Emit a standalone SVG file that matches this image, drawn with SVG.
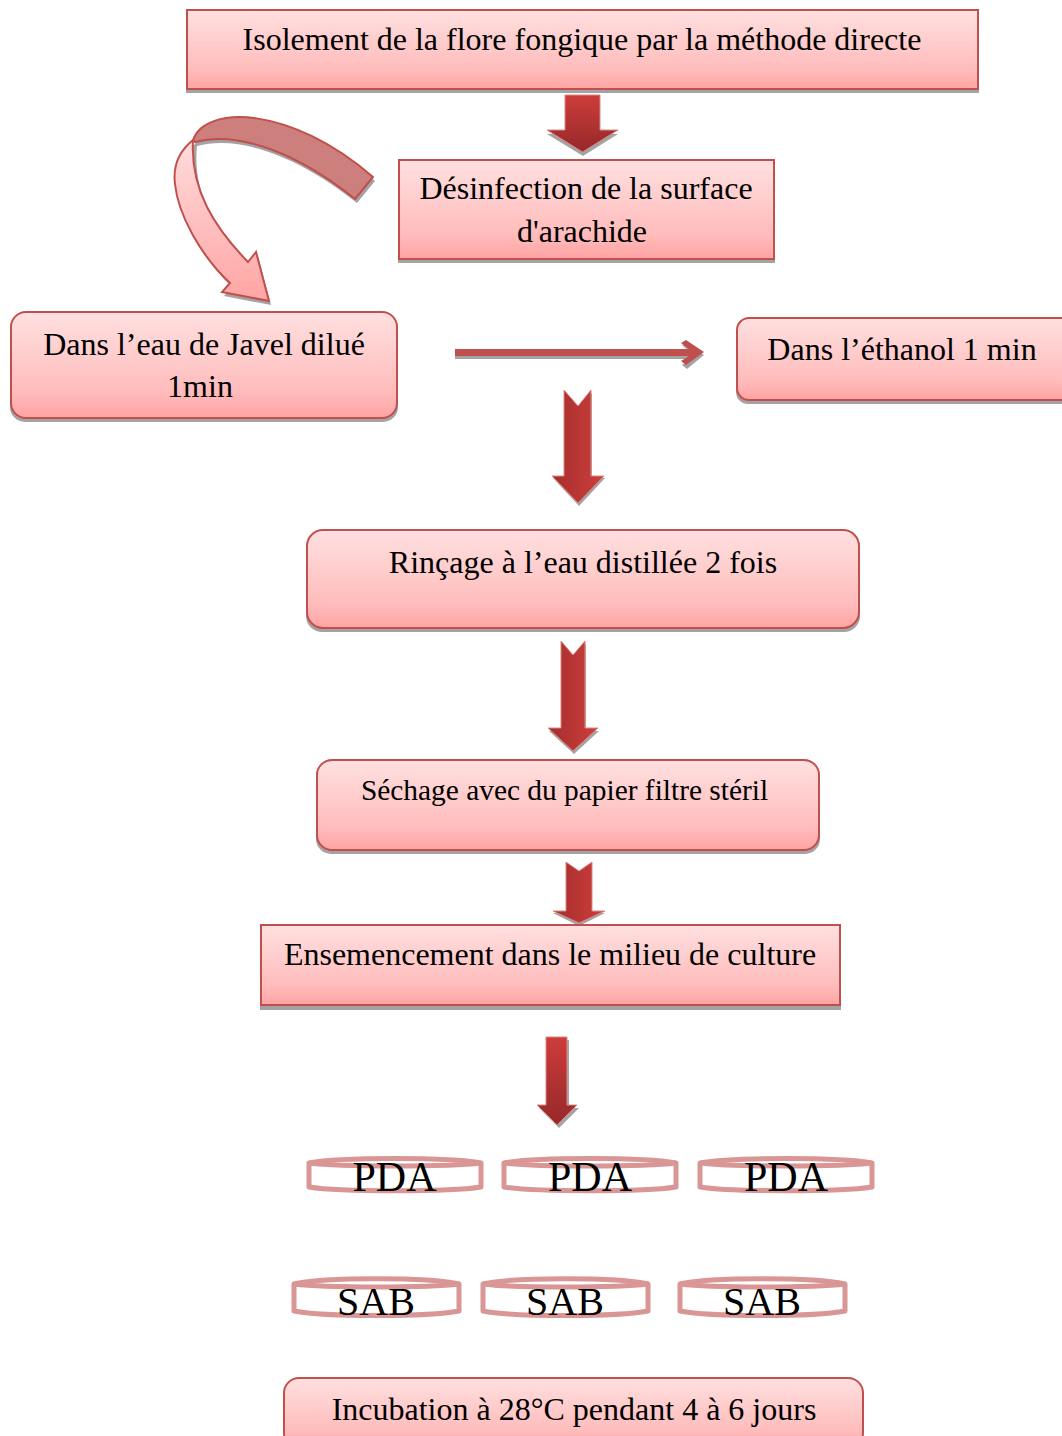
<svg xmlns="http://www.w3.org/2000/svg" width="1062" height="1436" viewBox="0 0 1062 1436">
<defs>
<linearGradient id="box" x1="0" y1="0" x2="0" y2="1"><stop offset="0" stop-color="#ffe0e0"/><stop offset="0.75" stop-color="#ffbcbc"/><stop offset="1" stop-color="#ffa3a3"/></linearGradient>
<linearGradient id="dn" x1="0" y1="0" x2="0" y2="1"><stop offset="0" stop-color="#cd3d3a"/><stop offset="1" stop-color="#96282a"/></linearGradient>
<linearGradient id="side" x1="0" y1="0" x2="1" y2="0"><stop offset="0" stop-color="#a52d2d"/><stop offset="1" stop-color="#cd3f3c"/></linearGradient>
<linearGradient id="curve" gradientUnits="userSpaceOnUse" x1="0" y1="140" x2="0" y2="300"><stop offset="0" stop-color="#ffdcdc"/><stop offset="1" stop-color="#ffa5a5"/></linearGradient>
</defs>
<style>
.b{fill:url(#box);stroke:#c0504d;stroke-width:2}
.s{fill:#a3a3a3}
.t{font-family:"Liberation Serif","Times New Roman",serif;font-size:32px;fill:#000;text-anchor:middle}
.m{font-size:29.400px}
.d{fill:#fff;stroke:#d99694;stroke-width:5;stroke-linejoin:round}
.r{fill:none;stroke:#d99694;stroke-width:5}
.l{font-family:"Liberation Serif","Times New Roman",serif;font-size:42px;fill:#000;text-anchor:middle}
.k{font-size:40px}
.ar{stroke:#dc8886;stroke-width:1}
</style>
<g id="connectors">
<g id="arrow-1"><path class="s" transform="translate(0,3)" d="M565 96H600V131H618L583 153 547 131H565Z"/><path class="ar" fill="url(#dn)" d="M565 95H600V130H618L582.500 152 547 130H565Z"/></g>
<g id="arrow-curve">
<path class="s" transform="translate(2,4)" d="M355 199 373 177C290 105 205 105 193 140 178 152 173 168 175 184 178 214 200 255 230 283L222 292 269 301 256 252 248 262C215 228 190 190 195 142 240 130 300 155 355 199Z"/>
<path d="M195 142C240 130 300 155 355 199L373 177C290 105 205 105 193 140Z" fill="#cd7f7d" stroke="#c0504d" stroke-width="2" stroke-linejoin="round"/>
<path d="M193 140C190 190 215 228 248 262L256 252 269 301 222 292 230 283C200 255 178 214 175 184 173 168 178 152 193 140Z" fill="url(#curve)" stroke="#c0504d" stroke-width="2"/>
</g>
<g id="arrow-h"><path class="s" transform="translate(0,3)" d="M455 349H690L682 342 687 340 704 352 687 366 682 362 690 356H455Z"/><path fill="#c0504d" d="M455 349H689L681 343 686 340 704 352 686 365 681 361 689 356H455Z"/></g>
<g id="arrow-2"><path class="s" transform="translate(1,3)" d="M564 390 578 406 591 390V475H604L578 503 552 475H564Z"/><path class="ar" fill="url(#side)" d="M564 390 578 406 591 390V476H604L578 503 552 476H564Z"/></g>
<g id="arrow-3"><path class="s" transform="translate(1,3)" d="M561 641 573 655 585 641V728H598L573 751 548 728H561Z"/><path class="ar" fill="url(#side)" d="M561 641 573 655 585 641V728H598L573 751 548 728H561Z"/></g>
<g id="arrow-4"><path class="s" transform="translate(0,2)" d="M566 862 579 871 592 862V911H605L579 924 553 911H566Z"/><path class="ar" fill="url(#side)" d="M566 862 579 871 592 862V911H605L579 923 553 911H566Z"/></g>
<g id="arrow-5"><path class="s" transform="translate(2,3)" d="M546 1037H567V1105H577L557 1125 537 1105H546Z"/><path class="ar" fill="url(#dn)" d="M546 1037H567V1105H577L557 1125 537 1105H546Z"/></g>
</g>
<g id="n1"><rect class="s" x="186" y="13" width="793" height="80"/><rect class="b" x="187" y="10" width="791" height="79"/><text class="t" x="582" y="50">Isolement de la flore fongique par la méthode directe</text></g>
<g id="n2"><rect class="s" x="398" y="163" width="377" height="100"/><rect class="b" x="399" y="160" width="375" height="99"/><text class="t" x="586" y="199">Désinfection de la surface</text><text class="t" x="582" y="242">d'arachide</text></g>
<g id="n3"><rect class="s" x="10" y="315" width="388" height="107" rx="15"/><rect class="b" x="11" y="312" width="386" height="106" rx="15"/><text class="t" x="204" y="355">Dans l’eau de Javel dilué</text><text class="t" x="200" y="397">1min</text></g>
<g id="n4"><rect class="s" x="736" y="321" width="340" height="83" rx="12"/><rect class="b" x="737" y="318" width="340" height="82" rx="12"/><text class="t" x="902" y="360">Dans l’éthanol 1 min</text></g>
<g id="n5"><rect class="s" x="306" y="533" width="554" height="99" rx="16"/><rect class="b" x="307" y="530" width="552" height="98" rx="16"/><text class="t" x="583" y="573">Rinçage à l’eau distillée 2 fois</text></g>
<g id="n6"><rect class="s" x="316" y="763" width="504" height="91" rx="15"/><rect class="b" x="317" y="760" width="502" height="90" rx="15"/><text class="t m" x="564.500" y="800">Séchage avec du papier filtre stéril</text></g>
<g id="n7"><rect class="s" x="260" y="929" width="581" height="81"/><rect class="b" x="261" y="925" width="579" height="80"/><text class="t" x="550" y="965">Ensemencement dans le milieu de culture</text></g>
<g id="n8"><rect class="s" x="283" y="1381" width="581" height="60" rx="15"/><rect class="b" x="284" y="1378" width="579" height="70" rx="15"/><text class="t" x="574" y="1420">Incubation à 28°C pendant 4 à 6 jours</text></g>
<g id="d1"><path class="d" d="M309 1163C340 1157 450 1157 481 1163V1187C450 1192 340 1192 309 1187Z"/><path class="r" d="M309 1163C340 1167 450 1167 481 1163"/><text class="l" x="394.500" y="1191">PDA</text></g>
<g id="d2"><path class="d" d="M504 1163C535 1157 645 1157 676 1163V1187C645 1192 535 1192 504 1187Z"/><path class="r" d="M504 1163C535 1167 645 1167 676 1163"/><text class="l" x="590" y="1191">PDA</text></g>
<g id="d3"><path class="d" d="M700 1163C731 1157 841 1157 872 1163V1187C841 1192 731 1192 700 1187Z"/><path class="r" d="M700 1163C731 1167 841 1167 872 1163"/><text class="l" x="786" y="1191">PDA</text></g>
<g id="s1"><path class="d" d="M294 1284C325 1277 428 1277 459 1284V1311C428 1317 325 1317 294 1311Z"/><path class="r" d="M294 1284C325 1288 428 1288 459 1284"/><text class="l k" x="376" y="1315">SAB</text></g>
<g id="s2"><path class="d" d="M483 1284C514 1277 617 1277 648 1284V1311C617 1317 514 1317 483 1311Z"/><path class="r" d="M483 1284C514 1288 617 1288 648 1284"/><text class="l k" x="565" y="1315">SAB</text></g>
<g id="s3"><path class="d" d="M680 1284C711 1277 814 1277 845 1284V1311C814 1317 711 1317 680 1311Z"/><path class="r" d="M680 1284C711 1288 814 1288 845 1284"/><text class="l k" x="762" y="1315">SAB</text></g>
</svg>
